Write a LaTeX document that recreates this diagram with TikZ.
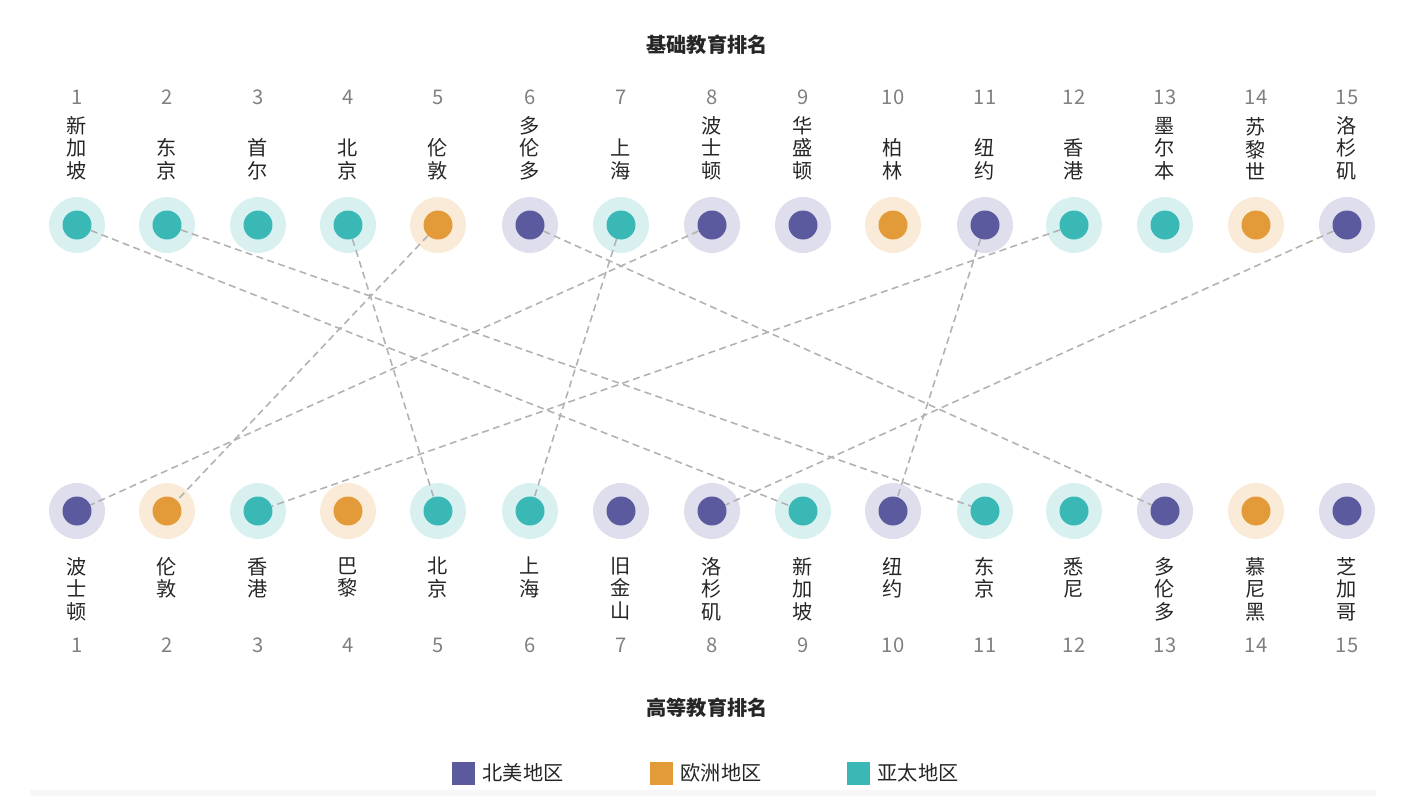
\documentclass[tikz,border=0pt]{standalone}
\usepackage{fontspec}
\setmainfont{Noto Sans CJK SC}
\usetikzlibrary{calc}
\definecolor{namer}{HTML}{5B5A9E}
\definecolor{europe}{HTML}{E39B3A}
\definecolor{asia}{HTML}{3AB8B5}
\definecolor{numgray}{HTML}{808080}
\tikzset{
  halo/.style={circle,fill=#1,fill opacity=0.2,minimum size=1.12cm,inner sep=0},
  dot/.style={circle,fill=#1,minimum size=0.58cm,inner sep=0},
  city/.style={align=center,font=\fontsize{11.5pt}{12.8pt}\selectfont,text=black!85},
  rank/.style={font=\fontsize{11.5pt}{12pt}\selectfont,text=numgray},
  link/.style={dash pattern=on 4pt off 2.5pt,draw=black!30,line width=0.9pt},
  title/.style={font=\fontsize{11.5pt}{12pt}\selectfont\bfseries,text=black!85}
}
\begin{document}
\begin{tikzpicture}[x=0.02cm,y=-0.02cm]
  \useasboundingbox (0,0) rectangle (1414,796);
  \fill[black!3] (30,790) rectangle (1376,796);
  \node[title] (ttop) at (707,45) {基础教育排名};
  \node[title] (tbot) at (707,708) {高等教育排名};
  % top row
  \foreach \i/\x/\name/\reg in {1/77/新\\加\\坡/asia,2/167/东\\京/asia,3/258/首\\尔/asia,
      4/348/北\\京/asia,5/438/伦\\敦/europe,6/530/多\\伦\\多/namer,7/621/上\\海/asia,
      8/712/波\\士\\顿/namer,9/803/华\\盛\\顿/namer,10/893/柏\\林/europe,11/985/纽\\约/namer,
      12/1074/香\\港/asia,13/1165/墨\\尔\\本/asia,14/1256/苏\\黎\\世/europe,15/1347/洛\\杉\\矶/namer} {
    \node[rank] (tr\i) at (\x,97) {\i};
    \node[city,anchor=south] (tn\i) at (\x,186) {\name};
    \node[halo=\reg] (th\i) at (\x,225) {};
    \node[dot=\reg] (t\i) at (\x,225) {};
  }
  % bottom row
  \foreach \i/\x/\name/\reg in {1/77/波\\士\\顿/namer,2/167/伦\\敦/europe,3/258/香\\港/asia,
      4/348/巴\\黎/europe,5/438/北\\京/asia,6/530/上\\海/asia,7/621/旧\\金\\山/namer,
      8/712/洛\\杉\\矶/namer,9/803/新\\加\\坡/asia,10/893/纽\\约/namer,11/985/东\\京/asia,
      12/1074/悉\\尼/asia,13/1165/多\\伦\\多/namer,14/1256/慕\\尼\\黑/europe,15/1347/芝\\加\\哥/namer} {
    \node[halo=\reg] (bh\i) at (\x,511) {};
    \node[dot=\reg] (b\i) at (\x,511) {};
    \node[city,anchor=north] (bn\i) at (\x,551) {\name};
    \node[rank] (br\i) at (\x,645) {\i};
  }
  % links between rankings
  \foreach \a/\b in {1/9,2/11,4/5,5/2,6/13,7/6,8/1,11/10,12/3,15/8}
    \draw[link] (t\a) -- (b\b);
  % legend
  \foreach \x/\reg/\txt in {463/namer/北美地区,661/europe/欧洲地区,858/asia/亚太地区} {
    \node[fill=\reg,minimum size=0.46cm,inner sep=0] (k\reg) at (\x,773) {};
    \node[anchor=west,city,inner sep=2pt] (l\reg) at ($(k\reg.east)+(4,0)$) {\txt};
  }
\end{tikzpicture}
\end{document}
